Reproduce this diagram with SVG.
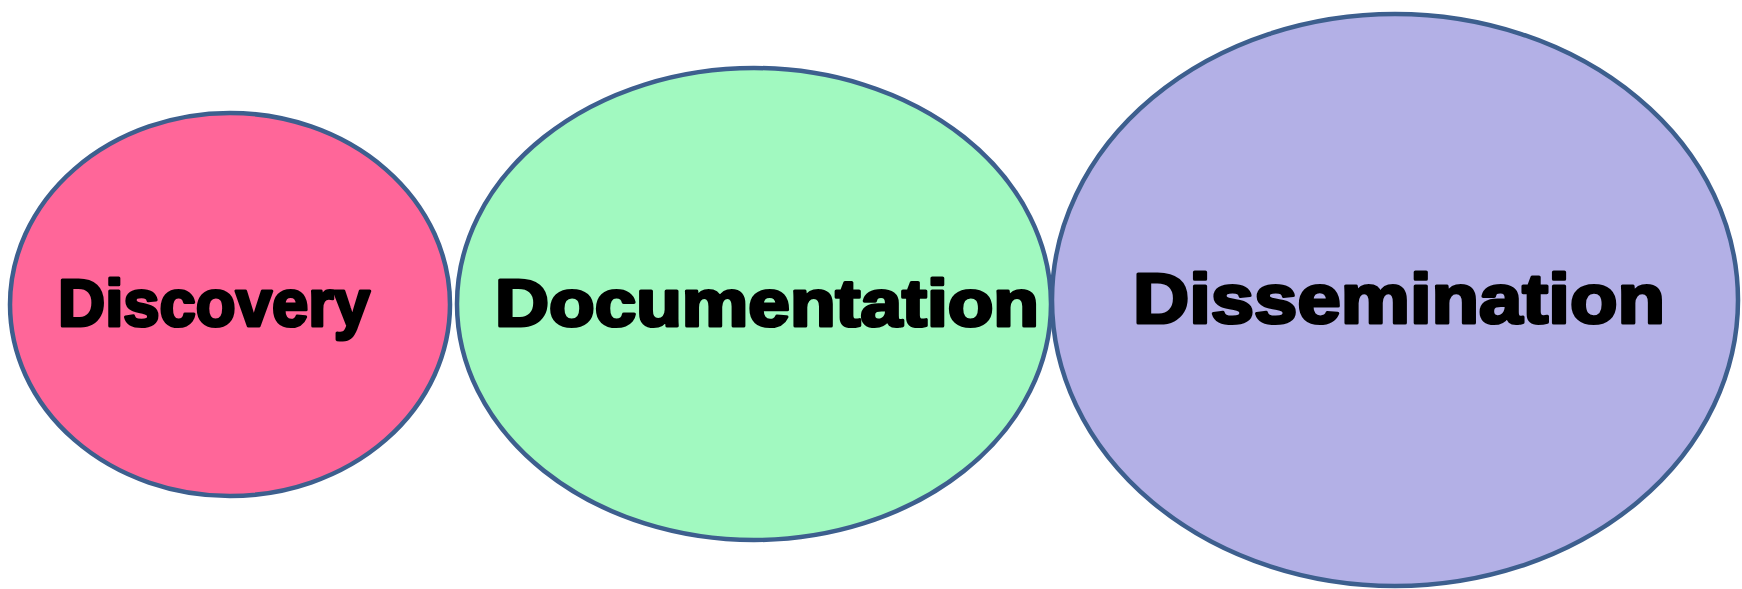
<svg xmlns="http://www.w3.org/2000/svg" width="1742" height="589" viewBox="0 0 1742 589">
  <style>
    .node { stroke: #3D5F8E; stroke-width: 4.5; }
    .label { font-family: "Liberation Sans", Arial, sans-serif; font-weight: bold; fill: #000; stroke: #000; stroke-width: 3.2; stroke-linejoin: round; text-anchor: start; }
  </style>
  <rect width="1742" height="589" fill="#FFFFFF"/>
  <g id="discovery">
    <ellipse class="node" cx="230" cy="304.5" rx="220" ry="191.5" fill="#FF6699"/>
    <text class="label" x="58" y="326" font-size="66" textLength="312" lengthAdjust="spacingAndGlyphs">Discovery</text>
  </g>
  <g id="documentation">
    <ellipse class="node" cx="754" cy="304" rx="297" ry="236" fill="#A1F9C0"/>
    <text class="label" x="495" y="326" font-size="66" textLength="544" lengthAdjust="spacingAndGlyphs">Documentation</text>
  </g>
  <g id="dissemination">
    <ellipse class="node" cx="1395" cy="300" rx="343" ry="286" fill="#B3B0E6"/>
    <text class="label" x="1133" y="323" font-size="71" textLength="532" lengthAdjust="spacingAndGlyphs">Dissemination</text>
  </g>
  <g id="connectors"/>
</svg>
